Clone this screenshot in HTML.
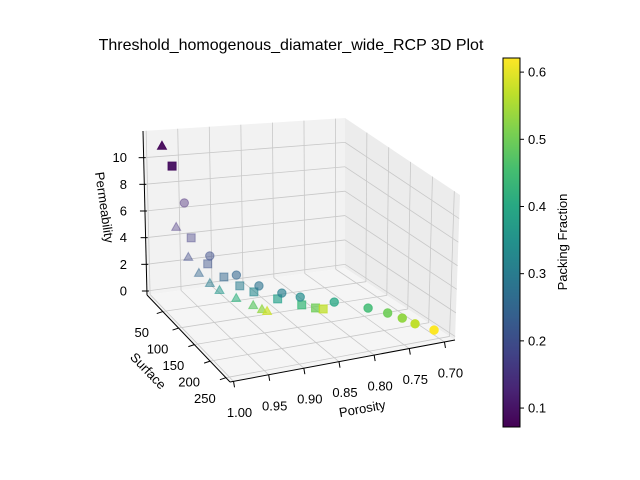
<!DOCTYPE html>
<html><head><meta charset="utf-8"><style>
body{margin:0;background:#fff;}
svg{display:block;font-family:"Liberation Sans","DejaVu Sans",sans-serif;}
</style></head><body>
<svg id="chart" width="640" height="480" viewBox="0 0 640 480" xmlns="http://www.w3.org/2000/svg">
<rect width="640" height="480" fill="#fff"/>
<text x="291" y="50" font-size="16" text-anchor="middle" fill="#000">Threshold_homogenous_diamater_wide_RCP 3D Plot</text>
<g id="panes"></g>
<g id="grid"></g>
<g id="axes"></g>
<g id="points"></g>
<text x="0" y="0" font-size="13" text-anchor="middle" transform="translate(100,208) rotate(82)">Permeability</text>
<text x="0" y="0" font-size="13" text-anchor="middle" transform="translate(145,374) rotate(46)">Surface</text>
<text x="0" y="0" font-size="13" text-anchor="middle" transform="translate(363,413) rotate(-10)">Porosity</text>
<defs><linearGradient id="vir" x1="0" y1="1" x2="0" y2="0"></linearGradient></defs>
<g id="cbar"></g>
<text x="0" y="0" font-size="13" text-anchor="middle" transform="translate(567,242) rotate(-90)">Packing Fraction</text>
</svg>
<script>
// ---- data ----
const triPorosity=[0.983,0.967,0.953,0.943,0.932,0.922,0.906,0.891,0.884,0.879];
const triSurface=[16,25,32,43,53,61,78,98,110,115];
const triPerm=[11,5,2.8,1.8,1.2,0.8,0.5,0.35,0.3,0.25];
const triPacking=[0.08,0.15,0.19,0.25,0.3,0.36,0.42,0.48,0.53,0.58];
const sqPorosity=[0.971,0.949,0.931,0.914,0.897,0.882,0.857,0.832,0.817,0.808];
const sqSurface=[21,32,44,57,69,80,99,119,129,133];
const sqPerm=[9.5,4.2,2.4,1.6,1.1,0.8,0.55,0.4,0.3,0.25];
const sqPacking=[0.09,0.17,0.21,0.25,0.3,0.33,0.38,0.44,0.5,0.57];
const ciPorosity=[0.96,0.933,0.904,0.878,0.852,0.831,0.792,0.755,0.735,0.722,0.712,0.695];
const ciSurface=[35,55,74,87,101,112,132,156,173,190,208,230];
const ciPerm=[7,3.3,2.1,1.4,1.0,0.8,0.6,0.45,0.35,0.3,0.25,0.2];
const ciPacking=[0.13,0.2,0.25,0.28,0.31,0.34,0.4,0.45,0.5,0.53,0.57,0.62];
const porosityTicks=[1.00,0.95,0.90,0.85,0.80,0.75,0.70];
const porosityTickLabels=["1.00","0.95","0.90","0.85","0.80","0.75","0.70"];
const surfaceTicks=[50,100,150,200,250];
const surfaceTickLabels=["50","100","150","200","250"];
const permTicks=[0,2,4,6,8,10];
const permTickLabels=["0","2","4","6","8","10"];
const cbarTicks=[0.1,0.2,0.3,0.4,0.5,0.6];
const cbarTickLabels=["0.1","0.2","0.3","0.4","0.5","0.6"];

// ---- geometry ----
const NS="http://www.w3.org/2000/svg";
const P_MAX=1.005,P_MIN=0.685,S_MIN=0,S_MAX=263,Z_MIN=-0.3,Z_MAX=12;
const BL=[147,295],BR=[345,268],FR=[455,340],FL=[230,382];
const TL=[143,131],TB=[345,118],TFR=[460,195];
function lerp(a,b,t){return [a[0]+(b[0]-a[0])*t,a[1]+(b[1]-a[1])*t];}
function pu(p){return (P_MAX-p)/(P_MAX-P_MIN);}
function sv(s){return (s-S_MIN)/(S_MAX-S_MIN);}
function zw(z){return (z-Z_MIN)/(Z_MAX-Z_MIN);}
function proj(p,s,z){const a=1-p,b=s-10;return [148+a*710+b*0.316,292-z*13.3+b*0.346-a*116];}
function mk(tag,attrs,parent){const e=document.createElementNS(NS,tag);for(const k in attrs)e.setAttribute(k,attrs[k]);parent.appendChild(e);return e;}
function line(p,q,col,w,parent){return mk('line',{x1:p[0],y1:p[1],x2:q[0],y2:q[1],stroke:col,'stroke-width':w},parent);}
function viridis(t){
  const c=[[68,1,84],[72,40,120],[62,74,137],[49,104,142],[38,130,142],[31,158,137],[53,183,121],[109,205,89],[180,222,44],[253,231,37]];
  t=Math.max(0,Math.min(1,t));const f=t*9,i=Math.min(8,Math.floor(f)),r=f-i;
  const a=c[i],b=c[i+1];return `rgb(${Math.round(a[0]+(b[0]-a[0])*r)},${Math.round(a[1]+(b[1]-a[1])*r)},${Math.round(a[2]+(b[2]-a[2])*r)})`;
}
const C_MIN=0.0718,C_MAX=0.621;
function cnorm(v){return (v-C_MIN)/(C_MAX-C_MIN);}

const panes=document.getElementById('panes');
const poly=(pts,fill,name)=>{const e=mk('polygon',{points:pts.map(p=>p.join(',')).join(' '),fill:fill,stroke:'none'},panes);};
poly([BL,BR,TB,TL],'#f2f2f2','back-pane');
poly([BR,FR,TFR,TB],'#ececec','right-pane');
poly([BL,BR,FR,FL],'#f5f5f5','floor-pane');

const grid=document.getElementById('grid');
const GC='#c8c8c8';
porosityTicks.forEach(p=>{const u=pu(p);const b=lerp(BL,BR,u),f=lerp(FL,FR,u),t=lerp(TL,TB,u);
  let l=line(b,f,GC,0.8,grid);
  l=line(b,t,GC,0.8,grid);});
surfaceTicks.forEach(s=>{const v=sv(s);const l1=lerp(BL,FL,v),r=lerp(BR,FR,v),t=lerp(TB,TFR,v);
  let l=line(l1,r,GC,0.8,grid);
  l=line(r,t,GC,0.8,grid);});
permTicks.forEach(z=>{const w=zw(z);const a=lerp(BL,TL,w),b=lerp(BR,TB,w),c=lerp(FR,TFR,w);
  let l=line(a,b,GC,0.8,grid);
  l=line(b,c,GC,0.8,grid);});

const axes=document.getElementById('axes');
let ax=line(BL,TL,'#000',1,axes);
ax=line(BL,FL,'#000',1,axes);
ax=line(FL,FR,'#000',1,axes);
function label(x,y,txt,anchor,name){const t=mk('text',{x:x,y:y,'font-size':13,'text-anchor':anchor,'dominant-baseline':'central',fill:'#000'},axes);t.textContent=txt;}
porosityTicks.forEach((p,i)=>{const q=lerp(FL,FR,pu(p));let l=line(q,[q[0]+1,q[1]+6],'#000',1,axes);
  label(q[0]+6,q[1]+31,porosityTickLabels[i],'middle','porosity-tick-label');});
surfaceTicks.forEach((s,i)=>{const q=lerp(BL,FL,sv(s));let l=line(q,[q[0]-6,q[1]+2],'#000',1,axes);
  label(q[0]-21,q[1]+21,surfaceTickLabels[i],'middle','surface-tick-label');});
permTicks.forEach((z,i)=>{const q=lerp(BL,TL,zw(z));let l=line([q[0]-5,q[1]],[q[0]+2,q[1]],'#000',1,axes);
  label(127,q[1],permTickLabels[i],'end','perm-tick-label');});

const pts=document.getElementById('points');
function drawSeries(P,S,Z,C,shape,name,firstOpaque){
  for(let i=0;i<P.length;i++){const [x,y]=proj(P[i],S[i],Z[i]);const col=viridis(cnorm(C[i]));
    let op=0.3+0.7*Math.min(1,S[i]/200);if(firstOpaque&&i===0)op=0.95;let e;
    if(shape==='tri') e=mk('polygon',{points:`${x},${y-4.5} ${x-4.5},${y+3.5} ${x+4.5},${y+3.5}`},pts);
    else if(shape==='sq') e=mk('rect',{x:x-4,y:y-4,width:8,height:8},pts);
    else e=mk('circle',{cx:x,cy:y,r:4.2},pts);
    e.setAttribute('fill',col);e.setAttribute('fill-opacity',op);e.setAttribute('stroke',col);e.setAttribute('stroke-opacity',op);
    
    }
}
drawSeries(triPorosity,triSurface,triPerm,triPacking,'tri','triangle-point',true);
drawSeries(sqPorosity,sqSurface,sqPerm,sqPacking,'sq','square-point',true);
drawSeries(ciPorosity,ciSurface,ciPerm,ciPacking,'ci','circle-point',false);

const grad=document.getElementById('vir');
for(let i=0;i<=10;i++){mk('stop',{offset:i/10,'stop-color':viridis(i/10)},grad);}
const cb=document.getElementById('cbar');
const CB_T=58,CB_B=427,CB_L=503,CB_R=520;
let r=mk('rect',{x:CB_L,y:CB_T,width:CB_R-CB_L,height:CB_B-CB_T,fill:'url(#vir)',stroke:'#000','stroke-width':1},cb);

function cy(v){return CB_B-(v-C_MIN)/(C_MAX-C_MIN)*(CB_B-CB_T);}
cbarTicks.forEach((v,i)=>{const y=cy(v);let l=line([CB_R,y],[CB_R+4,y],'#000',1,cb);
  const t=mk('text',{x:CB_R+8,y:y,'font-size':13,'dominant-baseline':'central',fill:'#000'},cb);t.textContent=cbarTickLabels[i];});
</script>
</body></html>
